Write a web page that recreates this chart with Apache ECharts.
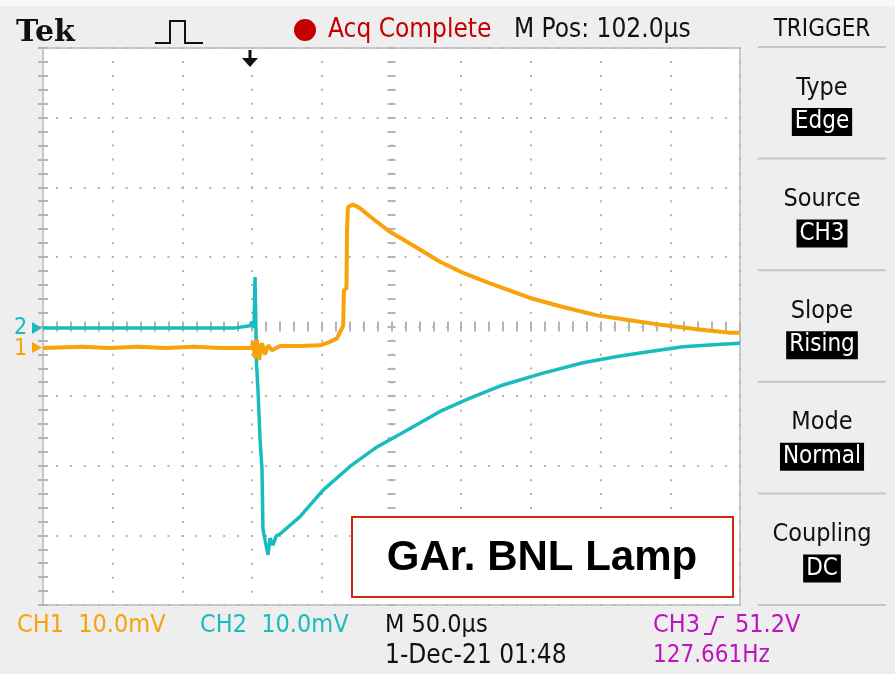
<!DOCTYPE html>
<html>
<head>
<meta charset="utf-8">
<script src="https://cdn.jsdelivr.net/npm/echarts@6/dist/echarts.min.js"></script>
<style>
  html, body { margin: 0; padding: 0; background: #eeeeee; }
  #chart { width: 895px; height: 674px; }
</style>
</head>
<body>
<div id="chart"></div>
<script>
// scope settings
const TIME_DIV = 50     // us / div
const M_POS = 102.0     // us, screen centre after trigger
const VOLT_DIV = 10     // mV / div (CH1 and CH2)
const CH1_POS = -0.31   // div, ground marker of CH1
const CH2_POS = -0.02   // div, ground marker of CH2

// CH1 (orange): time after trigger (us), volts over ground (mV)
const ch1Time = [-148, -120, -100, -80, -60, -40, -20, -5, 1.9, 2.6, 4.1, 5.5, 7.0, 9.1, 11.3, 13.4, 16.3, 22.0,
  36.4, 50.7, 57.9, 62.9, 65.8, 67.3, 67.9, 69.7, 70.1, 70.8, 74.4, 79.4, 86.6, 100.9, 120.3, 136.8,
  153.3, 172.7, 201.4, 225.0, 249.4, 273.1, 296.8, 321.2, 344.9, 352]
const ch1Volt = [0, 0.2, 0, 0.2, 0, 0.2, 0, 0, 0, 1.0, -1.4, 1.2, -1.7, 0.7, -0.9, 0.4, -0.3, 0.3,
  0.3, 0.4, 0.9, 1.4, 2.6, 3.2, 8.3, 8.6, 17.0, 20.3, 20.6, 20.1, 18.9, 16.7, 14.4, 12.4,
  10.8, 9.3, 7.2, 5.9, 4.7, 4.0, 3.3, 2.7, 2.2, 2.2]

// CH2 (cyan)
const ch2Time = [-148, -100, -50, -10, 0.5, 1.9, 3.4, 4.1, 5.2, 6.2, 7.7, 9.1, 9.8, 11.3, 13.4, 14.9, 17.0,
  19.2, 22.0, 36.4, 52.9, 72.2, 91.6, 113.1, 136.8, 158.3, 182.0, 210.7, 239.4, 263.8, 287.5,
  311.1, 335.5, 352]
const ch2Volt = [0, 0, 0, 0, 0.3, 0.9, 0, 7.3, -5.3, -8.8, -16.0, -20.3, -28.9, -30.5, -32.6, -30.2, -31.2,
  -29.9, -29.6, -27.1, -23.3, -19.9, -17.1, -14.7, -12.0, -10.1, -8.2, -6.5, -5.0, -4.1, -3.4,
  -2.7, -2.4, -2.2]

// trigger menu
const menuTitles = ['Type', 'Source', 'Slope', 'Mode', 'Coupling']
const menuValues = ['Edge', 'CH3', 'Rising', 'Normal', 'DC']

const ORANGE = '#f8a20c'
const CYAN = '#19bcbe'
const MAGENTA = '#c012c0'
const FONT = '"DejaVu Sans Condensed", "Liberation Sans Narrow", sans-serif'

const chart = echarts.init(document.getElementById('chart'))

const xShift = 5 * TIME_DIV - M_POS // us from left edge to trigger
const toScreen = (times, volts, pos) =>
  times.map((t, i) => [t + xShift, volts[i] + pos * VOLT_DIV])

const gridLeft = 43, gridTop = 48, gridW = 697, gridH = 557
const dotGap = gridW / 50 - 2

/* axis helpers */
function xAx(position, offset, len, split) {
  return {
    type: 'value', min: 0, max: 10 * TIME_DIV, interval: TIME_DIV,
    position, offset,
    axisLine: { show: false },
    axisLabel: { show: false },
    axisTick: { show: true, inside: true, length: len, lineStyle: { color: '#b4b4b4', width: 2 } },
    minorTick: { show: true, splitNumber: 5, length: len, lineStyle: { color: '#b4b4b4', width: 2 } },
    splitLine: { show: split, lineStyle: { color: '#b4b4b4', width: 2, type: [2, dotGap], dashOffset: 1 } }
  }
}
function yAx(position, offset, len, split) {
  return {
    type: 'value', min: -4 * VOLT_DIV, max: 4 * VOLT_DIV, interval: VOLT_DIV,
    position, offset,
    axisLine: { show: false },
    axisLabel: { show: false },
    axisTick: { show: true, inside: true, length: len, lineStyle: { color: '#b4b4b4', width: 2 } },
    minorTick: { show: true, splitNumber: 5, length: len, lineStyle: { color: '#b4b4b4', width: 2 } },
    splitLine: { show: split, lineStyle: { color: '#b4b4b4', width: 2, type: [2, dotGap], dashOffset: 1 } }
  }
}

const midX = gridW / 2, midY = gridH / 2

// scope screen text
const txt = (x, y, text, fill, size, align, extra) => ({
  type: 'text', x, y, silent: true, z: 100,
  style: Object.assign({ text, fill, font: size + 'px ' + FONT, textAlign: align || 'left', textVerticalAlign: 'middle' }, extra || {})
})

const graphics = [
  { type: 'rect', z: 100, shape: { x: 0, y: 0, width: 895, height: 6 }, style: { fill: '#f8f8f8' } },
  { type: 'text', z: 100, x: 16, y: 33, style: { text: 'Tek', fill: '#111', font: 'bold 30px "DejaVu Serif", serif', textVerticalAlign: 'middle' } },
  { type: 'polyline', z: 100, shape: { points: [[155, 43], [170, 43], [170, 21], [185, 21], [185, 43], [203, 43]] }, style: { stroke: '#111', lineWidth: 2, fill: null } },
  { type: 'circle', z: 100, shape: { cx: 305, cy: 30, r: 11 }, style: { fill: '#c40000' } },
  txt(328, 30, 'Acq Complete', '#c40000', 26),
  txt(514, 30, 'M Pos: 102.0µs', '#111', 26),
  txt(822, 30, 'TRIGGER', '#111', 24, 'center'),
  // trigger position arrow
  { type: 'polygon', z: 100, shape: { points: [[242, 58], [258, 58], [250, 67]] }, style: { fill: '#111' } },
  { type: 'line', z: 100, shape: { x1: 250, y1: 50, x2: 250, y2: 60 }, style: { stroke: '#111', lineWidth: 3 } },
  // channel ground markers
  txt(14, 328, '2', CYAN, 23),
  { type: 'polygon', z: 100, shape: { points: [[32, 322], [42, 328], [32, 334]] }, style: { fill: CYAN } },
  txt(14, 349, '1', ORANGE, 23),
  { type: 'polygon', z: 100, shape: { points: [[32, 342], [42, 347.5], [32, 353]] }, style: { fill: ORANGE } },
  // bottom readouts
  txt(17, 625, 'CH1  10.0mV', ORANGE, 25),
  txt(200, 625, 'CH2  10.0mV', CYAN, 25),
  txt(385, 625, 'M 50.0µs', '#111', 25),
  txt(385, 656, '1-Dec-21 01:48', '#111', 26),
  txt(653, 625, 'CH3', MAGENTA, 25),
  { type: 'polyline', z: 100, shape: { points: [[704, 634], [711, 634], [717, 617], [724, 617]] }, style: { stroke: MAGENTA, lineWidth: 2, fill: null } },
  txt(735, 625, '51.2V', MAGENTA, 25),
  txt(653, 656, '127.661Hz', MAGENTA, 24),
  // annotation box
  { type: 'rect', z: 100, shape: { x: 352, y: 517, width: 381, height: 80 }, style: { fill: '#fff', stroke: '#cc2a10', lineWidth: 2 } },
  { type: 'text', z: 101, x: 542, y: 558, style: { text: 'GAr. BNL Lamp', fill: '#000', font: 'bold 42px "Liberation Sans", Arial, sans-serif', textAlign: 'center', textVerticalAlign: 'middle' } }
]

// trigger menu on the right
const sepY = [47, 158.6, 270.2, 381.8, 493.4, 605]
sepY.forEach(y => graphics.push({ type: 'line', z: 100, shape: { x1: 758, y1: y, x2: 886, y2: y }, style: { stroke: '#c4c4c4', lineWidth: 2 } }))
menuTitles.forEach((t, i) => {
  const y0 = sepY[i]
  graphics.push(txt(822, y0 + 41, t, '#111', 25, 'center'))
  graphics.push(txt(822, y0 + 75, menuValues[i], '#fff', 24, 'center', {
    backgroundColor: '#000', padding: [3, 3, 1, 3]
  }))
})

const option = {
  backgroundColor: '#eeeeee',
  animation: false,
  grid: {
    left: gridLeft, top: gridTop, width: gridW, height: gridH,
    show: true, backgroundColor: '#ffffff', borderColor: '#c8c8c8', borderWidth: 2
  },
  xAxis: [
    xAx('bottom', 0, 5, true),
    xAx('top', 0, 5, false),
    xAx('bottom', -midY, 4, false),
    xAx('top', -midY, 4, false)
  ],
  yAxis: [
    yAx('left', 0, 5, true),
    yAx('right', 0, 5, false),
    yAx('left', -midX, 4, false),
    yAx('right', -midX, 4, false)
  ],
  series: [
    {
      name: 'CH2', type: 'line', symbol: 'none', z: 3,
      data: toScreen(ch2Time, ch2Volt, CH2_POS),
      lineStyle: { color: CYAN, width: 3.5 }
    },
    {
      name: 'CH1', type: 'line', symbol: 'none', z: 4,
      data: toScreen(ch1Time, ch1Volt, CH1_POS),
      lineStyle: { color: ORANGE, width: 4 }
    }
  ],
  graphic: graphics
}

chart.setOption(option)
window.addEventListener('resize', () => chart.resize())
</script>
</body>
</html>
